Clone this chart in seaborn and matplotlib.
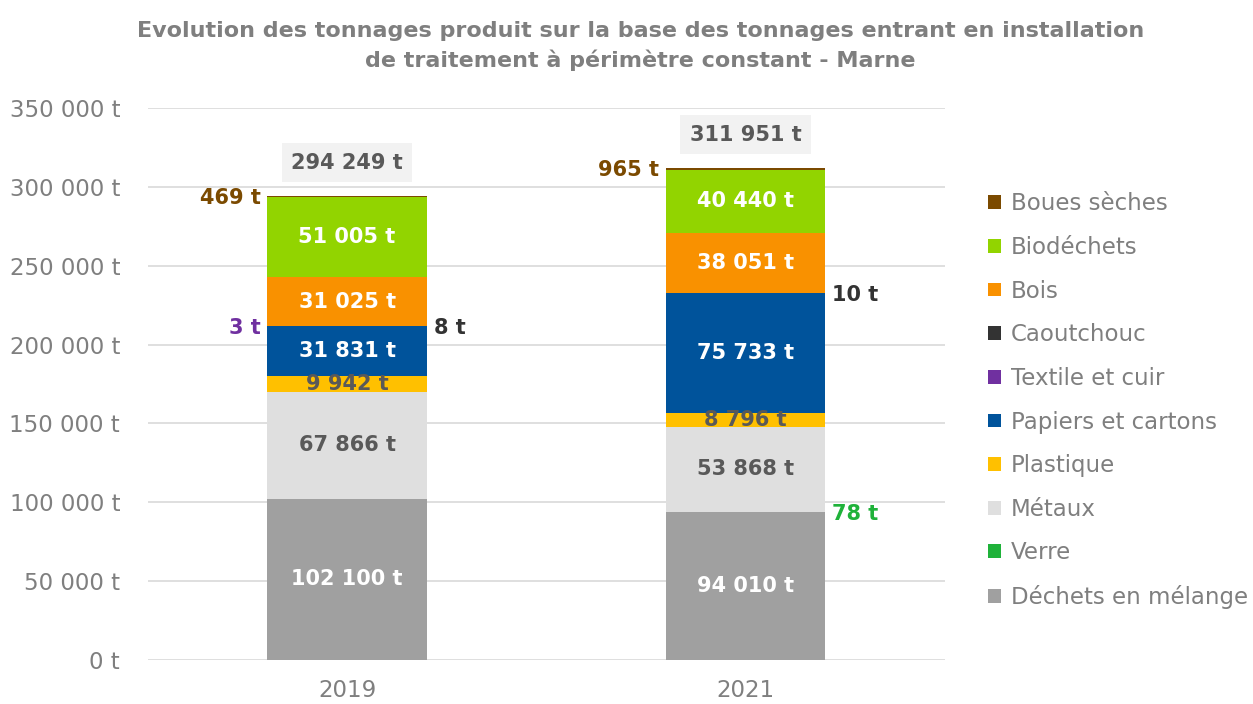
import matplotlib
matplotlib.use("Agg")
import matplotlib.pyplot as plt
import seaborn as sns
import pandas as pd
import numpy as np
from matplotlib.patches import Patch

# ---------------- data ----------------
years = ["2019", "2021"]
categories = ["Déchets en mélange", "Verre", "Métaux", "Plastique",
              "Papiers et cartons", "Textile et cuir", "Caoutchouc",
              "Bois", "Biodéchets", "Boues sèches"]
dechets_melange = [102100, 94010]
verre = [0, 78]
metaux = [67866, 53868]
plastique = [9942, 8796]
papiers = [31831, 75733]
textile = [3, 0]
caoutchouc = [8, 10]
bois = [31025, 38051]
biodechets = [51005, 40440]
boues = [469, 965]

colors = ["#A0A0A0", "#1FB23A", "#DFDFDF", "#FFC000", "#00539B",
          "#7030A0", "#333333", "#F99100", "#92D400", "#7B4A00"]

series = [dechets_melange, verre, metaux, plastique, papiers, textile,
          caoutchouc, bois, biodechets, boues]

rows = []
for cat, vals in zip(categories, series):
    for y, v in zip(years, vals):
        rows.append({"Année": y, "Catégorie": cat, "Tonnage": v})
df = pd.DataFrame(rows)
df["Catégorie"] = pd.Categorical(df["Catégorie"], categories=categories, ordered=True)
df = df.sort_values(["Année", "Catégorie"])
df["Haut"] = df.groupby("Année")["Tonnage"].cumsum()
df["Bas"] = df["Haut"] - df["Tonnage"]

def fmt(v):
    return f"{v:,}".replace(",", " ") + " t"

# ---------------- style ----------------
sns.set_theme(style="white")
plt.rcParams["font.family"] = ["DejaVu Sans"]
GREY = "#7F7F7F"
DARK = "#595959"

fig = plt.figure(figsize=(12.53, 7.04), dpi=100)
ax = fig.add_axes([0.118, 0.0625, 0.636, 0.784])

BW = 0.4
# draw cumulative layers top-down so lower layers overlay
for cat, col in zip(categories[::-1], colors[::-1]):
    sub = df[df["Catégorie"] == cat]
    sns.barplot(data=sub, x="Année", y="Haut", order=years, color=col,
                width=BW, saturation=1, linewidth=0, ax=ax, errorbar=None)

ax.set_ylim(0, 350000)
ax.set_xlim(-0.5, 1.5)
ax.set_yticks(np.arange(0, 350001, 50000))
ax.set_yticklabels([fmt(int(t)) for t in np.arange(0, 350001, 50000)])
ax.set_xlabel("")
ax.set_ylabel("")
ax.tick_params(axis="both", colors=GREY, labelsize=16.5, length=0)
ax.tick_params(axis="y", pad=20)
ax.tick_params(axis="x", pad=14)
ax.yaxis.grid(True, color="#D9D9D9", linewidth=1.2)
ax.set_axisbelow(True)
for s in ax.spines.values():
    s.set_visible(False)

# ---------------- labels ----------------
white_cats = {"Déchets en mélange", "Papiers et cartons", "Bois", "Biodéchets"}
grey_cats = {"Métaux", "Plastique"}
for _, r in df.iterrows():
    xi = years.index(r["Année"])
    cat = r["Catégorie"]
    v = r["Tonnage"]
    if cat in white_cats:
        ax.text(xi, (r["Bas"] + r["Haut"]) / 2, fmt(v), ha="center", va="center",
                color="white", fontsize=15, fontweight="bold")
    elif cat in grey_cats:
        ax.text(xi, (r["Bas"] + r["Haut"]) / 2, fmt(v), ha="center", va="center",
                color=DARK, fontsize=15, fontweight="bold")

small = {  # category: (side, colour)
    "Boues sèches": ("left", "#7B4A00"),
    "Textile et cuir": ("left", "#7030A0"),
    "Caoutchouc": ("right", "#333333"),
    "Verre": ("right", "#1FB23A"),
}
for _, r in df.iterrows():
    cat = r["Catégorie"]
    if cat not in small or r["Tonnage"] == 0:
        continue
    side, col = small[cat]
    xi = years.index(r["Année"])
    if side == "left":
        xp, dx, ha = xi - BW / 2, -5, "right"
    else:
        xp, dx, ha = xi + BW / 2, 5, "left"
    ax.annotate(fmt(r["Tonnage"]), (xp, r["Haut"]), xytext=(dx, -1.5),
                textcoords="offset points", ha=ha, va="center",
                color=col, fontsize=15, fontweight="bold")

totals = df.groupby("Année")["Tonnage"].sum()
for xi, y in enumerate(years):
    ax.annotate(fmt(int(totals[y])), (xi, totals[y]), xytext=(0, 24),
                textcoords="offset points", ha="center", va="center",
                color=DARK, fontsize=15, fontweight="bold",
                bbox=dict(boxstyle="square,pad=0.45", fc="#F2F2F2", ec="none"))

# ---------------- title ----------------
fig.text(0.511, 0.935, "Evolution des tonnages produit sur la base des tonnages entrant en installation\nde traitement à périmètre constant - Marne",
         ha="center", va="center", color=GREY, fontsize=16, fontweight="bold",
         linespacing=1.5)

# ---------------- legend ----------------
handles = [Patch(facecolor=c, edgecolor="none") for c in colors[::-1]]
fig.legend(handles, categories[::-1], loc="upper left",
           bbox_to_anchor=(0.772, 0.756), frameon=False, fontsize=16.5,
           labelcolor=GREY, handlelength=0.55, handleheight=0.55,
           handletextpad=0.45, labelspacing=0.9)

fig.savefig("out.png", dpi=100)
